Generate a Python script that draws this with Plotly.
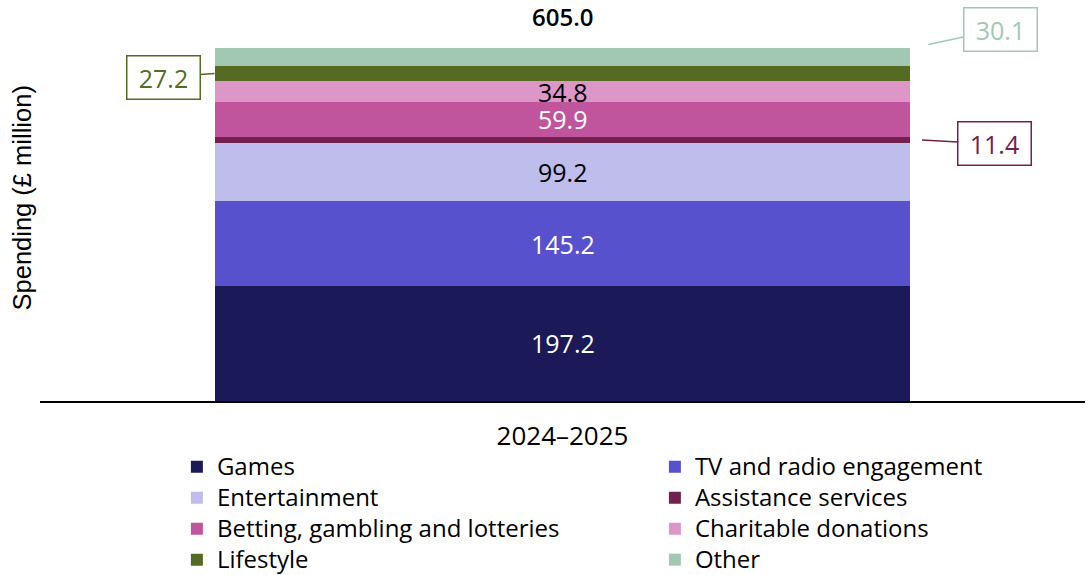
import plotly.graph_objects as go

# Spending by category, 2024–2025 (£ million)
period = ["2024–2025"]
categories = [
    "Games",
    "TV and radio engagement",
    "Entertainment",
    "Assistance services",
    "Betting, gambling and lotteries",
    "Charitable donations",
    "Lifestyle",
    "Other",
]
values = [197.2, 145.2, 99.2, 11.4, 59.9, 34.8, 27.2, 30.1]
total = 605.0

colors = ["#1b1957", "#5751cd", "#bfbdec", "#72214f",
          "#c0559e", "#dc96c8", "#556b22", "#a2c8b4"]
label_colors = ["white", "white", "black", None, "white", "black", None, None]

FONT = "Open Sans"
NUM_SIZE = 25

fig = go.Figure()
for name, v, c in zip(categories, values, colors):
    fig.add_trace(go.Bar(
        x=period, y=[v], name=f'<span style="font-size:24px">{name}</span>',
        marker=dict(color=c, line=dict(width=0)),
        hovertemplate=f"{name}: %{{y}}<extra></extra>",
    ))

annotations = []
base = 0.0
mids = []
for v in values:
    mids.append(base + v / 2)
    base += v

# Labels inside the bar
for v, m, lc in zip(values, mids, label_colors):
    if lc is None:
        continue
    annotations.append(dict(
        x=period[0], y=m, xref="x", yref="y", text=f"{v:.1f}",
        showarrow=False, font=dict(family=FONT, size=NUM_SIZE, color=lc),
    ))

# Total above the bar
annotations.append(dict(
    x=period[0], y=sum(values), xref="x", yref="y", text=f"{total:.1f}",
    showarrow=False, yanchor="bottom", yshift=13,
    font=dict(family=FONT, size=24, color="black", weight=600),
))

# Callouts for thin segments
def callout(idx, ax, ay, px, py):
    c = colors[idx]
    annotations.append(dict(
        x=px, y=py, xref="x", yref="y", ax=ax, ay=ay, axref="pixel", ayref="pixel",
        text=f"{values[idx]:.1f}", showarrow=True, arrowhead=0, arrowwidth=1.5,
        arrowcolor=c, bordercolor=c, borderwidth=1.5, borderpad=3,
        width=66, height=36,
        bgcolor="white", font=dict(family=FONT, size=NUM_SIZE, color=c),
    ))

callout(6, -51, 4, -0.333, mids[6])          # Lifestyle, left side
callout(7, 72, -15, 0.35, sum(values) + 6)   # Other, top right
callout(3, 73, 4, 0.344, mids[3])            # Assistance services, right side

# Y-axis title
annotations.append(dict(
    x=-0.0172, y=0.518, xref="paper", yref="paper", text="Spending (£ million)",
    textangle=-90, showarrow=False, xanchor="center", yanchor="middle",
    font=dict(family="Liberation Sans", size=25.5, color="black"),
))

fig.update_layout(
    barmode="stack",
    bargap=0.334,
    width=1091, height=575,
    margin=dict(l=40, r=6, t=10, b=174, autoexpand=False),
    plot_bgcolor="white", paper_bgcolor="white",
    font=dict(family=FONT, size=24, color="black"),
    showlegend=True,
    legend=dict(
        orientation="h", x=0.131, xanchor="left", y=-0.116, yanchor="top",
        entrywidth=433, entrywidthmode="pixels", traceorder="normal",
        font=dict(family=FONT, size=21.5, color="black"),
        itemwidth=30, tracegroupgap=0,
    ),
    xaxis=dict(
        range=[-0.5, 0.5], showline=True, linecolor="black", linewidth=2,
        ticks="", showgrid=False, zeroline=False, ticklabelstandoff=11,
        tickfont=dict(family=FONT, size=26, color="black"),
    ),
    yaxis=dict(
        range=[0, 670], showticklabels=False, showgrid=False, zeroline=False,
        showline=False, ticks="",
    ),
    annotations=annotations,
)

fig.write_html("out.html")
